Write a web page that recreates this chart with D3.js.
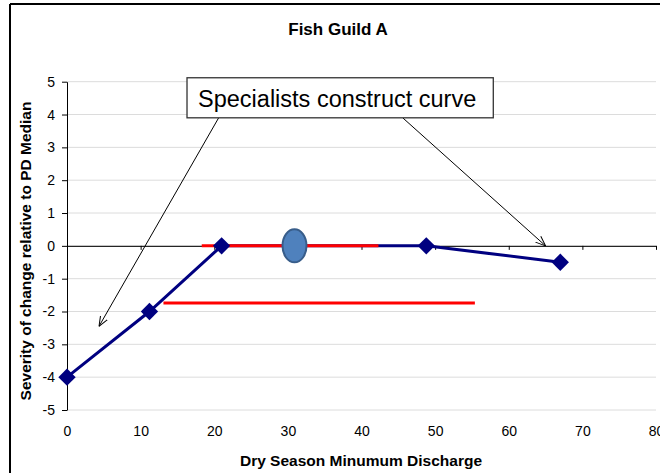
<!DOCTYPE html>
<html>
<head>
<meta charset="utf-8">
<script src="https://cdn.jsdelivr.net/npm/d3@7"></script>
<style>
body { margin: 0; background: #fff; }
svg { display: block; }
text { font-family: "Liberation Sans", Arial, sans-serif; }
</style>
</head>
<body>
<div id="chart"></div>
<script>
// data
var discharge = [0, 11.2, 21, 48.8, 67];
var severity = [-4, -2, 0, 0, -0.5];
var xTicks = [0, 10, 20, 30, 40, 50, 60, 70, 80];
var yTicks = [-5, -4, -3, -2, -1, 0, 1, 2, 3, 4, 5];

// red range bars
var redStart = [18.3, 13.1];
var redEnd = [42.3, 55.4];
var redLevel = [0, -1.74];

// blue oval marker
var ovalX = [30.9];
var ovalY = [0];

// callout box and its arrows (data units)
var calloutText = "Specialists construct curve";
var calloutX = [16.3, 57.9];
var calloutY = [5.12, 3.9];
var arrowFromX = [20.6, 45.6];
var arrowToX = [4.35, 65];
var arrowToY = [-2.45, 0];

var W = 660, H = 473;

var svg = d3.select("#chart").append("svg")
    .attr("width", W)
    .attr("height", H);

var x = d3.scaleLinear().domain([0, 80]).range([67, 656]);
var y = d3.scaleLinear().domain([-5, 5]).range([410, 81.7]);

// outer frame (top and left edges visible)
svg.append("line").attr("x1", 10).attr("x2", W).attr("y1", 4).attr("y2", 4)
    .attr("stroke", "#000").attr("stroke-width", 2);
svg.append("line").attr("x1", 10).attr("x2", 10).attr("y1", 4).attr("y2", H)
    .attr("stroke", "#000").attr("stroke-width", 2);

// gridlines
svg.append("g")
    .selectAll("line")
    .data(yTicks)
    .enter().append("line")
    .attr("x1", x(0))
    .attr("x2", x(80))
    .attr("y1", d => y(d))
    .attr("y2", d => y(d))
    .attr("stroke", "#dcdcdc")
    .attr("stroke-width", 1);

// y axis
var yAxis = svg.append("g")
    .attr("transform", "translate(" + x(0) + ",0)")
    .call(d3.axisLeft(y).tickValues(yTicks).tickSize(5).tickSizeOuter(0).tickPadding(7)
        .tickFormat(d => String(d)));
yAxis.select(".domain").attr("stroke", "#000");
yAxis.selectAll("text").style("font-size", "14px").attr("fill", "#000");

// x axis along zero, labels at the bottom
var xAxis = svg.append("g")
    .attr("transform", "translate(0," + y(0) + ")")
    .call(d3.axisBottom(x).tickValues(xTicks).tickSize(4).tickSizeOuter(0)
        .tickPadding(y(-5) - y(0) + 12)
        .tickFormat(d => String(d)));
xAxis.select(".domain").attr("stroke", "#000");
xAxis.selectAll("text").style("font-size", "14px").attr("fill", "#000");

// series line
var line = d3.line()
    .x((d, i) => x(discharge[i]))
    .y(d => y(d));

svg.append("path")
    .datum(severity)
    .attr("d", line)
    .attr("fill", "none")
    .attr("stroke", "#000080")
    .attr("stroke-width", 3);

// red range bars
svg.append("g")
    .selectAll("line")
    .data(redLevel)
    .enter().append("line")
    .attr("x1", (d, i) => x(redStart[i]))
    .attr("x2", (d, i) => x(redEnd[i]))
    .attr("y1", d => y(d))
    .attr("y2", d => y(d))
    .attr("stroke", "#ff0000")
    .attr("stroke-width", 3);

// diamond markers
svg.append("g")
    .selectAll("path")
    .data(severity)
    .enter().append("path")
    .attr("d", d3.symbol().type(d3.symbolSquare).size(150))
    .attr("transform", (d, i) => "translate(" + x(discharge[i]) + "," + y(d) + ") rotate(45)")
    .attr("fill", "#000080");

// oval
svg.append("g")
    .selectAll("ellipse")
    .data(ovalX)
    .enter().append("ellipse")
    .attr("cx", d => x(d))
    .attr("cy", (d, i) => y(ovalY[i]))
    .attr("rx", 12)
    .attr("ry", 16.5)
    .attr("fill", "#4f81bd")
    .attr("stroke", "#385d8a")
    .attr("stroke-width", 2);

// callout arrows
svg.append("defs").append("marker")
    .attr("id", "arrow")
    .attr("viewBox", "0 0 10 10")
    .attr("refX", 10)
    .attr("refY", 5)
    .attr("markerWidth", 10)
    .attr("markerHeight", 10)
    .attr("markerUnits", "userSpaceOnUse")
    .attr("orient", "auto")
    .append("path")
    .attr("d", "M0,1 L10,5 L0,9")
    .attr("fill", "none")
    .attr("stroke", "#000")
    .attr("stroke-width", 1);

svg.append("g")
    .selectAll("line")
    .data(arrowFromX)
    .enter().append("line")
    .attr("x1", d => x(d))
    .attr("y1", y(calloutY[1]))
    .attr("x2", (d, i) => x(arrowToX[i]))
    .attr("y2", (d, i) => y(arrowToY[i]))
    .attr("stroke", "#000")
    .attr("stroke-width", 1)
    .attr("marker-end", "url(#arrow)");

// callout box
svg.append("rect")
    .attr("x", x(calloutX[0]))
    .attr("y", y(calloutY[0]))
    .attr("width", x(calloutX[1]) - x(calloutX[0]))
    .attr("height", y(calloutY[1]) - y(calloutY[0]))
    .attr("fill", "#fff")
    .attr("stroke", "#333")
    .attr("stroke-width", 1.3);

svg.append("text")
    .attr("x", (x(calloutX[0]) + x(calloutX[1])) / 2 - 3)
    .attr("y", y(calloutY[1]) - 11)
    .attr("text-anchor", "middle")
    .style("font-size", "23.5px")
    .attr("fill", "#000")
    .text(calloutText);

// Title
svg.append("text")
    .attr("x", 338)
    .attr("y", 35)
    .attr("text-anchor", "middle")
    .style("font-size", "17px")
    .style("font-weight", "bold")
    .text("Fish Guild A");

// axis titles
svg.append("text")
    .attr("x", 361)
    .attr("y", 466)
    .attr("text-anchor", "middle")
    .style("font-size", "15.5px")
    .style("font-weight", "bold")
    .text("Dry Season Minumum Discharge");

svg.append("text")
    .attr("transform", "translate(31,251) rotate(-90)")
    .attr("text-anchor", "middle")
    .style("font-size", "15.5px")
    .style("font-weight", "bold")
    .text("Severity of change relative to PD Median");
</script>
</body>
</html>
